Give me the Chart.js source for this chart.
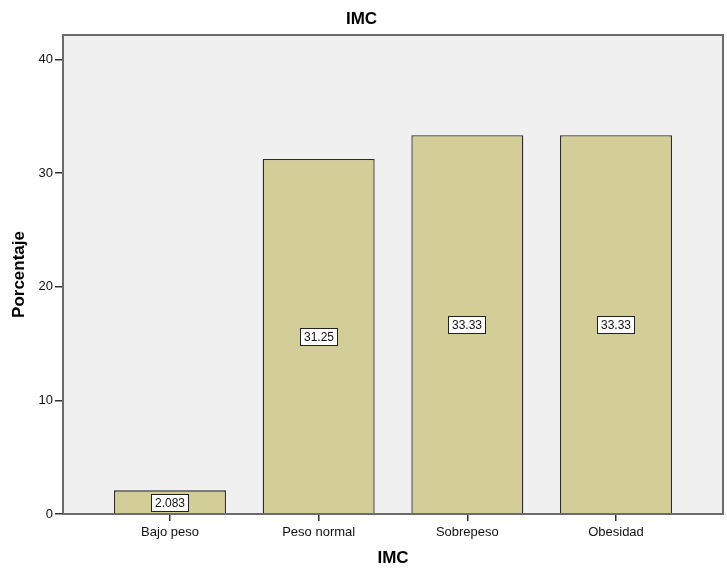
<!DOCTYPE html>
<html>
<head>
<meta charset="utf-8">
<script src="https://cdn.jsdelivr.net/npm/chart.js@4/dist/chart.umd.min.js"></script>
<style>
  html, body { margin: 0; padding: 0; background: #ffffff; }
  #wrap { width: 727px; height: 571px; }
</style>
</head>
<body>
<div id="wrap"><canvas id="c" width="727" height="571"></canvas></div>
<script>
const categories = ["Bajo peso", "Peso normal", "Sobrepeso", "Obesidad"];
const percentages = [2.083, 31.25, 33.33, 33.33];
const yTickValues = [0, 10, 20, 30, 40];
const chartTitle = "IMC";
const xTitle = "IMC";
const yTitle = "Porcentaje";

const FONT = "'Liberation Sans', Arial, sans-serif";

const plotBg = {
  id: 'plotBg',
  beforeDraw(chart) {
    const { ctx, chartArea: a } = chart;
    ctx.save();
    ctx.fillStyle = '#f0f0f0';
    ctx.fillRect(a.left, a.top, a.right - a.left, a.bottom - a.top);
    ctx.restore();
  },
  afterDraw(chart) {
    const { ctx, chartArea: a } = chart;
    ctx.save();
    ctx.strokeStyle = '#6b6b6b';
    ctx.lineWidth = 2;
    ctx.strokeRect(a.left, a.top, a.right - a.left, a.bottom - a.top);
    ctx.restore();
  }
};

const valueBoxes = {
  id: 'valueBoxes',
  afterDatasetsDraw(chart) {
    const { ctx } = chart;
    const meta = chart.getDatasetMeta(0);
    ctx.save();
    ctx.font = "12px " + FONT;
    ctx.textAlign = 'center';
    ctx.textBaseline = 'middle';
    meta.data.forEach((bar, i) => {
      const txt = String(percentages[i]);
      const w = Math.round(ctx.measureText(txt).width + 7);
      const h = 17;
      const cx = Math.round(bar.x);
      const cy = Math.round((bar.y + bar.base) / 2) + 1;
      const x0 = cx - Math.round(w / 2) + 0.5;
      const y0 = cy - Math.round(h / 2) + 0.5;
      ctx.fillStyle = '#ffffff';
      ctx.fillRect(x0, y0, w, h);
      ctx.strokeStyle = '#222222';
      ctx.lineWidth = 1;
      ctx.strokeRect(x0, y0, w, h);
      ctx.fillStyle = '#111111';
      ctx.fillText(txt, cx, cy + 1);
    });
    ctx.restore();
  }
};

new Chart(document.getElementById('c'), {
  type: 'bar',
  data: {
    datasets: [{
      data: percentages.map((v, i) => ({ x: i, y: v })),
      backgroundColor: '#d3ce97',
      borderColor: '#2a2a2a',
      borderWidth: 1.3,
      borderSkipped: 'bottom',
      categoryPercentage: 0.753,
      barPercentage: 1.0
    }]
  },
  options: {
    responsive: false,
    animation: false,
    layout: { padding: { left: 0, right: 4, top: 0, bottom: 0 } },
    plugins: {
      legend: { display: false },
      tooltip: { enabled: false },
      title: {
        display: true,
        text: chartTitle,
        color: '#000000',
        font: { family: FONT, size: 17, weight: 'bold' },
        padding: { top: 9, bottom: 5.6 }
      }
    },
    scales: {
      x: {
        type: 'linear',
        offset: false,
        min: -0.7197,
        max: 3.7197,
        afterBuildTicks(scale) {
          scale.ticks = categories.map((_, i) => ({ value: i }));
        },
        afterFit(scale) { scale.height = 57; },
        ticks: {
          callback: (v) => categories[v],
          color: '#111111',
          font: { family: FONT, size: 13 },
          padding: 4,
          maxRotation: 0,
          autoSkip: false
        },
        grid: {
          offset: false,
          drawOnChartArea: false,
          drawTicks: true,
          tickLength: 7,
          color: '#333333',
          lineWidth: 1.5
        },
        border: { display: false },
        title: {
          display: true,
          text: xTitle,
          color: '#000000',
          font: { family: FONT, size: 17, weight: 'bold' },
          padding: { top: 0, bottom: 2.8 }
        }
      },
      y: {
        type: 'linear',
        min: 0,
        max: 42.16,
        afterBuildTicks(scale) {
          scale.ticks = yTickValues.map(v => ({ value: v }));
        },
        afterFit(scale) { scale.width = 63; },
        ticks: {
          color: '#111111',
          font: { family: FONT, size: 13 },
          padding: 2
        },
        grid: {
          drawOnChartArea: false,
          drawTicks: true,
          tickLength: 8,
          color: '#333333',
          lineWidth: 1.5
        },
        border: { display: false },
        title: {
          display: true,
          text: yTitle,
          color: '#000000',
          font: { family: FONT, size: 17, weight: 'bold' },
          padding: { top: 8.8, bottom: 0 }
        }
      }
    }
  },
  plugins: [plotBg, valueBoxes]
});
</script>
</body>
</html>
